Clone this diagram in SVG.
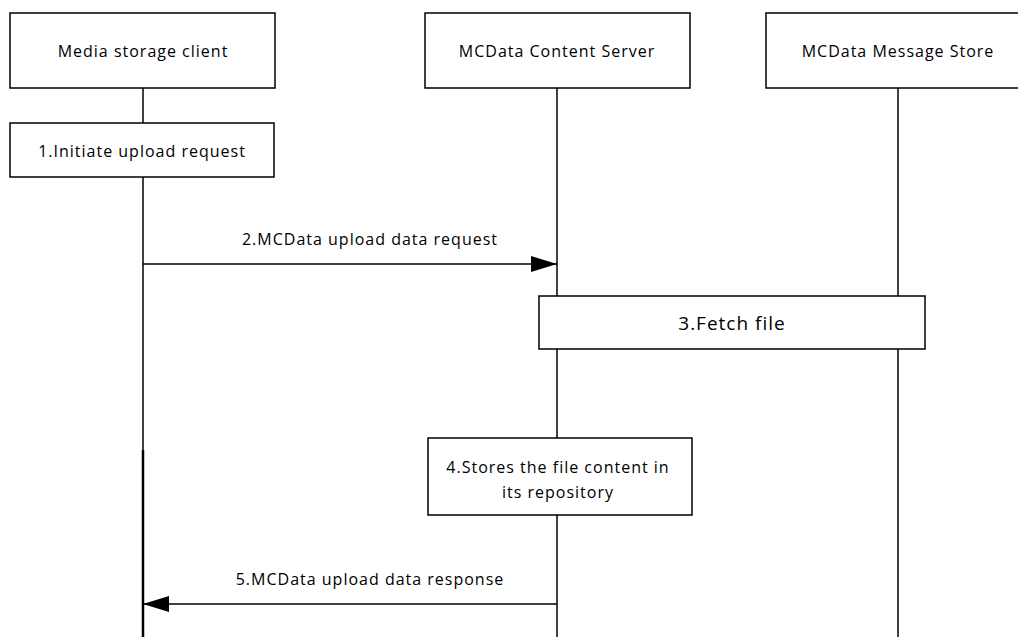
<svg xmlns="http://www.w3.org/2000/svg" width="1018" height="637" viewBox="0 0 1018 637">
<style>
.box{fill:#fff;stroke:#000;stroke-width:1.5}
.life{stroke:#000;stroke-width:1.5;fill:none}
.msg{stroke:#000;stroke-width:1.5;fill:none}
text{font-family:"Open Sans","Liberation Sans",Arial,sans-serif;font-size:16px;fill:#000;text-anchor:middle;letter-spacing:1px}
</style>
<defs>
<marker id="ah" markerWidth="26" markerHeight="16" refX="26" refY="8" orient="auto" markerUnits="userSpaceOnUse">
<path d="M0,0 L26,8 L0,16 Z" fill="#000"/>
</marker>
</defs>
<rect width="1018" height="637" fill="#fff"/>
<g id="lifelines">
<line class="life" x1="143" y1="88" x2="143" y2="637"/>
<line class="life" x1="557" y1="88" x2="557" y2="637"/>
<line class="life" x1="898" y1="88" x2="898" y2="637"/>
<line x1="143" y1="450" x2="143" y2="637" stroke="#000" stroke-width="2.5"/>
</g>
<g id="client"><rect class="box" x="10" y="13" width="265" height="75"/><text x="143" y="57">Media storage client</text></g>
<g id="server"><rect class="box" x="425" y="13" width="265" height="75"/><text x="557" y="57">MCData Content Server</text></g>
<g id="store"><rect class="box" x="766" y="13" width="265" height="75"/><text x="898" y="57">MCData Message Store</text></g>
<g id="step1"><rect class="box" x="10" y="123" width="264" height="54"/><text x="142" y="157">1.Initiate upload request</text></g>
<g id="step3"><rect class="box" x="539" y="296" width="386" height="53"/><text x="732" y="330" style="font-size:19px">3.Fetch file</text></g>
<g id="step4"><rect class="box" x="428" y="438" width="264" height="77"/><text x="558" y="473">4.Stores the file content in</text><text x="558" y="498">its repository</text></g>
<g id="connectors">
<line class="msg" x1="143" y1="264" x2="557" y2="264" marker-end="url(#ah)"/>
<text x="370" y="245">2.MCData upload data request</text>
<line class="msg" x1="557" y1="604" x2="143" y2="604" marker-end="url(#ah)"/>
<text x="370" y="585">5.MCData upload data response</text>
</g>
</svg>
